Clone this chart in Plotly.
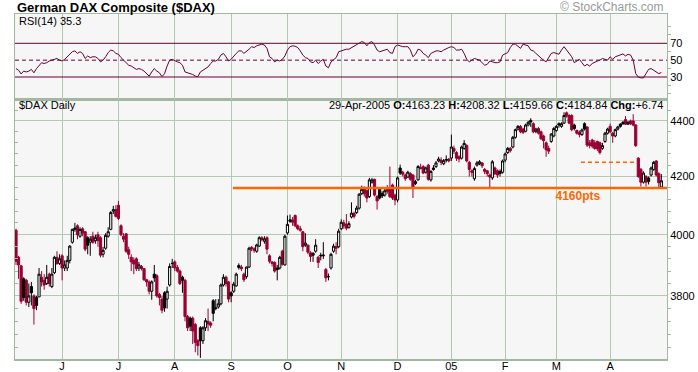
import plotly.graph_objects as go
import pandas as pd

# ---------------- data ----------------
HOLIDAYS = ["2004-12-24", "2004-12-31", "2005-03-25", "2005-03-28"]
DATES = [d.strftime("%Y-%m-%d") for d in pd.bdate_range("2004-05-06", "2005-04-29")
         if d.strftime("%Y-%m-%d") not in HOLIDAYS]

MONTH_TICKS = ["2004-06-01", "2004-07-01", "2004-08-02", "2004-09-01", "2004-10-01",
               "2004-11-01", "2004-12-01", "2005-01-03", "2005-02-01", "2005-03-01", "2005-04-01"]
MONTH_LABELS = ["J", "J", "A", "S", "O", "N", "D", "05", "F", "M", "A"]

OPEN = [4015,3925,3897,3855,3850,3780,3830,3800,3795,3797,
        3860,3850,3840,3870,3830,3875,3925,3905,3930,3890,
        3890,3915,3975,4018,4030,3995,4020,4010,3990,3975,
        3995,3980,4000,3990,3935,3955,3995,4018,4080,4085,
        4100,4030,3995,4003,3950,3925,3915,3920,3890,3895,
        3888,3852,3845,3815,3870,3865,3805,3790,3810,3790,
        3835,3905,3910,3892,3880,3860,3850,3735,3730,3730,
        3710,3660,3700,3660,3700,3720,3715,3785,3760,3765,
        3775,3835,3860,3845,3810,3815,3832,3898,3893,3870,
        3862,3893,3958,3953,3945,3962,3990,3978,3990,3930,
        3910,3908,3890,3890,3945,3900,4006,4045,4050,4065,
        4030,4020,4010,3965,3965,3940,3938,3945,3925,3932,
        3930,3885,3862,3890,3945,3960,3960,4020,4040,4035,
        4025,4060,4072,4075,4090,4140,4160,4150,4130,4180,
        4190,4130,4155,4140,4135,4160,4160,4170,4135,4118,
        4230,4215,4205,4198,4210,4205,4175,4188,4232,4235,
        4215,4240,4188,4230,4235,4255,4258,4245,4258,4262,
        4265,4300,4285,4270,4265,4300,4310,4250,4220,4192,
        4240,4245,4248,4225,4220,4205,4195,4230,4220,4218,
        4215,4258,4285,4300,4305,4340,4370,4380,4370,4362,
        4385,4402,4390,4362,4372,4360,4345,4320,4300,4325,
        4345,4365,4390,4380,4392,4430,4420,4420,4385,4365,
        4358,4350,4390,4378,4320,4330,4320,4325,4320,4300,
        4325,4355,4380,4355,4345,4370,4388,4395,4405,4388,
        4400,4400,4385,4265,4225,4180,4200,4195,4205,4225,
        4255,4210,4163.23]
HIGH = [4020,3930,3900,3860,3855,3840,3845,3805,3800,3890,
        3880,3870,3900,3875,3890,3930,3945,3935,3935,3915,
        3930,3965,4020,4040,4035,4025,4025,4012,3995,3995,
        4010,4000,4010,3995,3960,4005,4025,4080,4098,4100,
        4115,4035,4005,4005,3960,3935,3925,3925,3910,3900,
        3890,3855,3850,3850,3900,3870,3810,3800,3815,3830,
        3905,3920,3915,3900,3885,3865,3855,3740,3735,3735,
        3715,3665,3705,3705,3730,3760,3720,3790,3790,3790,
        3840,3870,3865,3848,3815,3845,3875,3905,3900,3875,
        3895,3960,3962,3958,3970,3995,3995,3995,3995,3935,
        3912,3912,3900,3930,3950,4000,4065,4068,4060,4068,
        4035,4030,4012,4005,3968,3945,3942,3985,3930,3940,
        3975,3890,3872,3940,3970,3975,4020,4052,4050,4070,
        4045,4110,4078,4098,4142,4168,4165,4155,4195,4195,
        4192,4135,4160,4148,4158,4170,4235,4175,4140,4200,
        4242,4220,4210,4220,4215,4208,4188,4240,4245,4240,
        4235,4245,4222,4240,4255,4270,4268,4262,4275,4265,
        4350,4310,4290,4275,4310,4330,4315,4255,4225,4235,
        4255,4258,4250,4230,4222,4210,4258,4235,4225,4225,
        4260,4285,4305,4305,4345,4372,4385,4385,4375,4390,
        4400,4410,4395,4375,4378,4365,4350,4325,4310,4355,
        4378,4385,4395,4395,4432,4435,4425,4425,4390,4368,
        4365,4372,4395,4380,4330,4335,4330,4328,4325,4320,
        4360,4375,4390,4360,4372,4382,4392,4400,4418,4400,
        4405,4425,4388,4268,4230,4218,4205,4200,4235,4255,
        4258,4215,4208.32]
LOW = [3900,3855,3775,3785,3770,3765,3770,3710,3755,3797,
       3830,3820,3835,3830,3825,3870,3900,3900,3850,3880,
       3880,3905,3970,4010,3985,3990,3995,3945,3935,3930,
       3970,3970,3960,3925,3925,3950,3990,4015,4070,4058,
       4050,3995,3975,3940,3920,3880,3870,3880,3880,3882,
       3848,3830,3805,3788,3845,3795,3770,3745,3750,3760,
       3830,3890,3880,3875,3835,3810,3720,3690,3690,3650,
       3625,3615,3608,3650,3690,3690,3700,3720,3755,3760,
       3770,3830,3830,3780,3780,3810,3830,3885,3880,3845,
       3855,3890,3945,3940,3940,3960,3978,3970,3935,3905,
       3895,3875,3850,3885,3898,3898,4000,4040,4030,4025,
       4015,4010,3945,3960,3935,3910,3910,3940,3890,3915,
       3920,3845,3850,3885,3940,3935,3955,4015,4020,4015,
       4020,4055,4055,4070,4085,4135,4130,4110,4125,4175,
       4130,4085,4120,4125,4130,4140,4125,4118,4100,4110,
       4205,4200,4185,4195,4185,4125,4170,4185,4225,4208,
       4210,4185,4182,4220,4230,4250,4240,4240,4250,4250,
       4255,4280,4255,4250,4260,4295,4250,4200,4200,4185,
       4235,4240,4230,4208,4200,4160,4188,4205,4195,4200,
       4210,4250,4280,4285,4300,4335,4365,4355,4352,4358,
       4380,4378,4355,4355,4350,4330,4300,4270,4280,4320,
       4340,4360,4375,4375,4390,4412,4388,4362,4365,4350,
       4340,4345,4365,4305,4300,4300,4295,4290,4278,4295,
       4320,4350,4355,4320,4340,4365,4375,4385,4385,4385,
       4385,4380,4305,4195,4165,4175,4165,4172,4200,4220,
       4200,4158,4159.66]
CLOSE = [3912,3900,3783,3795,3780,3800,3810,3760,3770,3870,
         3845,3835,3860,3840,3870,3925,3905,3920,3890,3900,
         3915,3962,4018,4022,4000,4018,4005,3952,3965,3985,
         3975,3990,3980,3932,3948,3998,4010,4075,4085,4062,
         4055,4000,3985,3945,3935,3910,3903,3888,3900,3888,
         3852,3845,3815,3845,3858,3800,3795,3755,3762,3815,
         3895,3905,3890,3880,3840,3850,3735,3700,3705,3690,
         3655,3645,3660,3700,3722,3712,3708,3745,3762,3775,
         3835,3860,3840,3790,3800,3838,3870,3892,3888,3852,
         3893,3955,3953,3948,3966,3990,3984,3986,3952,3912,
         3905,3880,3885,3925,3902,3995,4035,4050,4042,4030,
         4020,4015,3960,3972,3942,3928,3932,3965,3908,3930,
         3932,3858,3862,3935,3962,3955,4012,4042,4030,4022,
         4037,4073,4062,4090,4138,4155,4140,4125,4188,4188,
         4135,4115,4125,4132,4150,4148,4130,4125,4118,4195,
         4212,4208,4192,4215,4190,4158,4182,4235,4228,4212,
         4230,4190,4218,4225,4248,4262,4250,4256,4260,4255,
         4305,4290,4265,4262,4305,4318,4255,4225,4215,4228,
         4248,4252,4238,4218,4210,4198,4252,4210,4205,4210,
         4255,4280,4300,4292,4340,4368,4380,4360,4358,4385,
         4395,4396,4360,4370,4355,4335,4328,4295,4290,4352,
         4372,4380,4385,4390,4420,4418,4392,4368,4372,4355,
         4350,4367,4370,4312,4310,4308,4300,4298,4285,4310,
         4355,4370,4360,4345,4368,4378,4380,4390,4388,4395,
         4390,4385,4310,4200,4180,4212,4180,4182,4230,4250,
         4205,4178.10,4184.84]
RSI = [40,38,33.6,37,36,37,39,35,40,44,
       47,46,47,49,50,51,52,50,49,51,
       54,58,60,61,58,60,58,52,55,53,
       54,54,52,48,50,54,59,62,61,58,
       57,53,50,46,44,43,41,39,40,39,
       37,34,31,36,40,37,35,30.5,34,43,
       50,51,49,48,47,44,36,35,34,33,
       31,30.4,36,38,41,42,46,49,49,51,
       56,58,54,49,51,55,58,61,61,58,
       60,63,66,65,67,68.5,69,68,64,54,
       52,48,50,49,51,55,62,66,67,66.5,
       65,61,56,53,52,48,47,50,46,49,
       51,43,41,48,51,53,60,61,62,63,
       63,65,66,68,70,72,71,67,71,72,
       68,62,60,61,62,63,59,58,66,68,
       67,66,66,66,62,54,57,63,62,58,
       56,53,58,60,61,61,60,62,64,65,
       66,65,62,62,63,58,51,48,50,52,
       51,50,47,44,45,49,48,47,47,48,
       56,58,59,65,69,69,67,64,69,68,
       67,62,61,58,55,52,50,48,53,58,
       59,58,57,62,66,62,58,54,47,49,
       51,47,43,45,43,46,48,49,50,52,
       51,50,54,51,54,55,56,57.4,55,57,
       56,50,34,30,29,29,34,39,40,38,
       35,34,35.3]

SUPPORT_LEVEL = 4160
SUPPORT_LABEL = "4160pts"
RESIST_LEVEL = 4250
RSI_LEVELS = [70, 50, 30]
PRICE_TICKS = [3800, 4000, 4200, 4400]

HEADER = ("29-Apr-2005 <b>O:</b>4163.23 <b>H:</b>4208.32 <b>L:</b>4159.66 "
          "<b>C:</b>4184.84 <b>Chg:</b>+6.74")

n = len(DATES)
assert len(OPEN) == len(HIGH) == len(LOW) == len(CLOSE) == len(RSI) == n, (
    n, len(OPEN), len(HIGH), len(LOW), len(CLOSE), len(RSI))

idx = list(range(n))
pos = {d: i for i, d in enumerate(DATES)}
tickvals = [pos[d] for d in MONTH_TICKS]

# ---------------- style ----------------
FONT = "Liberation Sans, Arial, sans-serif"
BG = "#F6F6F6"
GRID = "#B4C8B4"
FRAME = "#A3B8A3"
RED = "#990033"
BLACK = "#000000"
RSI_COL = "#660033"
ORANGE = "#FF6600"

W, H = 698, 372
ML, MR, MT, MB = 15, 31, 14, 13
PH = H - MT - MB
SPLIT = (359 - 100) / PH

XR = [-0.39, 254.2]

fig = go.Figure()

groups = {}
for i in idx:
    prev = CLOSE[i - 1] if i > 0 else None
    down = prev is None or CLOSE[i] < prev
    filled = CLOSE[i] < OPEN[i]
    groups.setdefault((down, filled), []).append(i)

for (down, filled), ids in groups.items():
    col = RED if down else BLACK
    fill = col if filled else BG
    style = dict(line=dict(color=col, width=1), fillcolor=fill)
    fig.add_trace(go.Candlestick(
        x=ids,
        open=[OPEN[i] for i in ids], high=[HIGH[i] for i in ids],
        low=[LOW[i] for i in ids], close=[CLOSE[i] for i in ids],
        increasing=style, decreasing=style, whiskerwidth=0,
        xaxis="x", yaxis="y", showlegend=False, hoverinfo="skip"))

# support line & resistance dashed line
fig.add_trace(go.Scatter(x=[84.7, XR[1]], y=[SUPPORT_LEVEL] * 2, mode="lines",
                         line=dict(color=ORANGE, width=2.5), xaxis="x", yaxis="y",
                         showlegend=False, hoverinfo="skip"))
fig.add_trace(go.Scatter(x=[220.6, 241.3], y=[RESIST_LEVEL] * 2, mode="lines",
                         line=dict(color=ORANGE, width=1.5, dash="4px,3px"),
                         xaxis="x", yaxis="y", showlegend=False, hoverinfo="skip"))
fig.add_trace(go.Scatter(x=[219.4], y=[4128], mode="text", text=[f"<b>{SUPPORT_LABEL}</b>"],
                         textfont=dict(color=ORANGE, size=12, family=FONT),
                         xaxis="x", yaxis="y", showlegend=False, hoverinfo="skip"))

# RSI
for lvl in RSI_LEVELS:
    fig.add_trace(go.Scatter(x=[XR[0], XR[1]], y=[lvl, lvl], mode="lines",
                             line=dict(color=RSI_COL, width=1,
                                       dash="4px,3px" if lvl == 50 else "solid"),
                             xaxis="x2", yaxis="y2", showlegend=False, hoverinfo="skip"))
fig.add_trace(go.Scatter(x=idx, y=RSI, mode="lines", line=dict(color=RSI_COL, width=1),
                         xaxis="x2", yaxis="y2", showlegend=False, hoverinfo="skip"))

# invisible trace to anchor left tick axis
fig.add_trace(go.Scatter(x=[None], y=[None], xaxis="x", yaxis="y3", showlegend=False))

price_minor = [v for v in range(3640, 4480, 40) if v % 200 != 0]

axis_common = dict(showline=True, linecolor=FRAME, linewidth=1, mirror=True,
                   gridcolor=GRID, gridwidth=1, zeroline=False, automargin=False,
                   tickfont=dict(family=FONT, size=11, color="#000"))

fig.update_layout(
    width=W, height=H, autosize=False, margin=dict(l=ML, r=MR, t=MT, b=MB, pad=0, autoexpand=False),
    paper_bgcolor="white", plot_bgcolor=BG, showlegend=False,
    font=dict(family=FONT, size=11, color="#000"),
    boxgap=0.0, boxgroupgap=0.15,
    xaxis=dict(domain=[0, 1], anchor="y", range=XR, tickmode="array", tickvals=tickvals,
               ticktext=MONTH_LABELS, showgrid=True, ticks="", rangeslider=dict(visible=False),
               ticklabelstandoff=-4,
               **{**axis_common, "linewidth": 2}),
    xaxis2=dict(domain=[0, 1], anchor="y2", matches="x", range=XR, tickmode="array",
                tickvals=tickvals, showticklabels=False, showgrid=True, ticks="",
                **axis_common),
    yaxis=dict(domain=[0, SPLIT], anchor="x", type="log", side="right",
               range=[3.55685, 3.65107], tickmode="array", tickvals=PRICE_TICKS,
               showgrid=True, ticks="",
               minor=dict(tickmode="array", tickvals=price_minor, ticks="outside",
                          ticklen=3, tickcolor=FRAME, showgrid=False),
               **axis_common),
    yaxis3=dict(domain=[0, SPLIT], anchor="x", overlaying="y", type="log", side="left",
                range=[3.55685, 3.65107], showticklabels=False, showgrid=False,
                showline=False, tickmode="array", tickvals=PRICE_TICKS, ticks="",
                automargin=False,
                minor=dict(tickmode="array", tickvals=price_minor, ticks="inside",
                           ticklen=3, tickcolor=FRAME, showgrid=False)),
    yaxis2=dict(domain=[SPLIT, 1], anchor="x2", side="right", range=[2.7, 104.8],
                tickmode="array", tickvals=RSI_LEVELS, showgrid=False, ticks="",
                minor=dict(tickmode="array", tickvals=[10, 20, 40, 60, 80, 90],
                           ticks="outside", ticklen=3, tickcolor=FRAME),
                **axis_common),
)

def py(ypx):
    return (H - MB - ypx) / PH

fig.add_annotation(xref="paper", yref="paper", x=0, y=py(7), xanchor="left",
                   yanchor="middle", showarrow=False,
                   text="<b>German DAX Composite ($DAX)</b>",
                   font=dict(family=FONT, size=13, color="#000"))
fig.add_annotation(xref="paper", yref="paper", x=(666 - ML) / (W - ML - MR), y=py(7),
                   xanchor="right", yanchor="middle", showarrow=False,
                   text="© StockCharts.com", font=dict(family=FONT, size=12, color="#999999"))
fig.add_annotation(xref="paper", yref="paper", x=0.003, y=py(21), xanchor="left",
                   yanchor="middle", showarrow=False, text=f"RSI(14) {RSI[-1]}",
                   font=dict(family=FONT, size=11, color="#000"))
fig.add_annotation(xref="paper", yref="paper", x=0.003, y=py(105), xanchor="left",
                   yanchor="middle", showarrow=False, text="$DAX Daily",
                   font=dict(family=FONT, size=11, color="#000"))
fig.add_annotation(xref="paper", yref="paper", x=(665 - ML) / (W - ML - MR), y=py(105),
                   xanchor="right", yanchor="middle", showarrow=False, text=HEADER,
                   font=dict(family=FONT, size=11, color="#000"))

fig.write_html("out.html", config={"displayModeBar": False},
               post_script="document.body.style.margin='0';document.body.style.padding='0';")
